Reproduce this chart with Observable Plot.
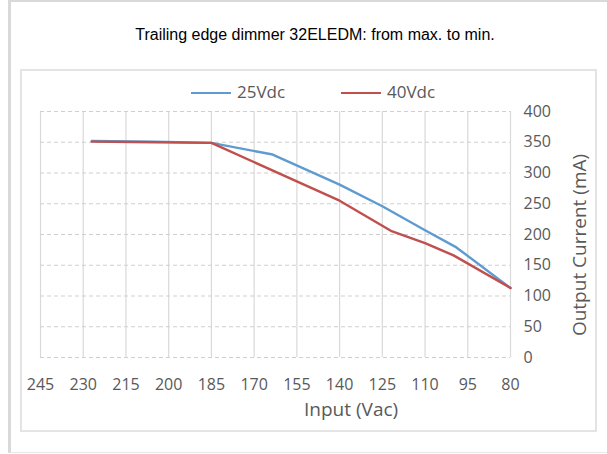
<!DOCTYPE html>
<html>
<head>
<meta charset="utf-8">
<script src="https://cdn.jsdelivr.net/npm/d3@7"></script>
<script src="https://cdn.jsdelivr.net/npm/@observablehq/plot@0.6"></script>
<style>
  html, body { margin: 0; padding: 0; background: #fff; }
  #wrap { position: relative; width: 607px; height: 454px; overflow: hidden; background: #fff; }
  #outer { position: absolute; left: 8px; top: 0; width: 620px; height: 453px; box-sizing: border-box;
           border-left: 3px solid #d9d9d9; border-top: 2px solid #d9d9d9; border-bottom: 1px solid #e8e8e8; }
  #inner { position: absolute; left: 20px; top: 69px; width: 577px; height: 363px; box-sizing: border-box;
           border: 2px solid #e4e4e4; }
  #title { position: absolute; left: 0; top: 26px; width: 630px; text-align: center;
           font-family: "Liberation Sans", Arial, sans-serif; font-size: 16px; line-height: 17px; color: #000; }
  .leg { position: absolute; font-family: "Open Sans", sans-serif; font-size: 17px; line-height: 20px; color: #595959; }
  .legline { position: absolute; height: 2px; width: 40px; }
  .axt { position: absolute; font-family: "Open Sans", sans-serif; font-size: 19px; line-height: 22px; color: #595959; white-space: nowrap; }
  #plot { position: absolute; left: 21px; top: 70px; }
</style>
</head>
<body>
<div id="wrap">
  <div id="outer"></div>
  <div id="inner"></div>
  <div id="title">Trailing edge dimmer 32ELEDM: from max. to min.</div>
  <div id="legend"></div>
  <div id="plot"></div>
  <div class="axt" id="xtitle">Input (Vac)</div>
  <div class="axt" id="ytitle">Output Current (mA)</div>
</div>
<script>
// ---- data ----
const seriesNames = ["25Vdc", "40Vdc"];
const seriesColors = ["#5f9bd0", "#c0504d"];

const input25 = [227, 205, 185, 163.5, 140, 125, 110, 99, 80];
const current25 = [352, 351, 349, 330, 281, 246, 207, 179, 113];

const input40 = [227, 205, 185, 140, 122, 110, 100, 80];
const current40 = [351, 350, 349, 255, 206, 186, 166, 113];

const xTicks = [245, 230, 215, 200, 185, 170, 155, 140, 125, 110, 95, 80];
const yTicks = [0, 50, 100, 150, 200, 250, 300, 350, 400];

// ---- build rows ----
const rows = [
  ...input25.map((x, i) => ({series: seriesNames[0], x, y: current25[i]})),
  ...input40.map((x, i) => ({series: seriesNames[1], x, y: current40[i]}))
];

const chart = Plot.plot({
  width: 576,
  height: 362,
  marginLeft: 19,
  marginRight: 87,
  marginTop: 41,
  marginBottom: 75,
  style: {fontFamily: "'Open Sans', sans-serif", fontSize: "16px", color: "#595959", background: "transparent", overflow: "visible"},
  x: {domain: [245, 80], ticks: xTicks},
  y: {domain: [0, 400], ticks: yTicks},
  color: {domain: seriesNames, range: seriesColors},
  marks: [
    Plot.ruleX(xTicks, {stroke: "#d9d9d9", strokeWidth: 1.2}),
    Plot.ruleY(yTicks, {stroke: "#d0d0d0", strokeWidth: 1.2, strokeDasharray: "4,3"}),
    Plot.axisX({ticks: xTicks, tickSize: 0, tickPadding: 21, label: null, fontSize: 16, tickFormat: d => String(d)}),
    Plot.axisY({ticks: yTicks, anchor: "right", tickSize: 0, tickPadding: 13, label: null, fontSize: 16, textAnchor: "start"}),
    Plot.line(rows, {x: "x", y: "y", z: "series", stroke: "series", strokeWidth: 2.4, curve: "linear"})
  ]
});
document.getElementById("plot").appendChild(chart);

// legend
const legend = document.getElementById("legend");
const legPos = [{line: 191, text: 237}, {line: 341, text: 387}];
seriesNames.forEach((name, i) => {
  const ln = document.createElement("div");
  ln.className = "legline";
  ln.style.left = legPos[i].line + "px";
  ln.style.top = "92px";
  ln.style.background = seriesColors[i];
  legend.appendChild(ln);
  const tx = document.createElement("div");
  tx.className = "leg";
  tx.style.left = legPos[i].text + "px";
  tx.style.top = "82px";
  tx.textContent = name;
  legend.appendChild(tx);
});

// axis titles
const xt = document.getElementById("xtitle");
xt.style.left = (351 - xt.offsetWidth / 2) + "px";
xt.style.top = (410 - 12) + "px";
const yt = document.getElementById("ytitle");
yt.style.left = (579 - yt.offsetWidth / 2) + "px";
yt.style.top = (245 - 11) + "px";
yt.style.transform = "rotate(-90deg)";
</script>
</body>
</html>
